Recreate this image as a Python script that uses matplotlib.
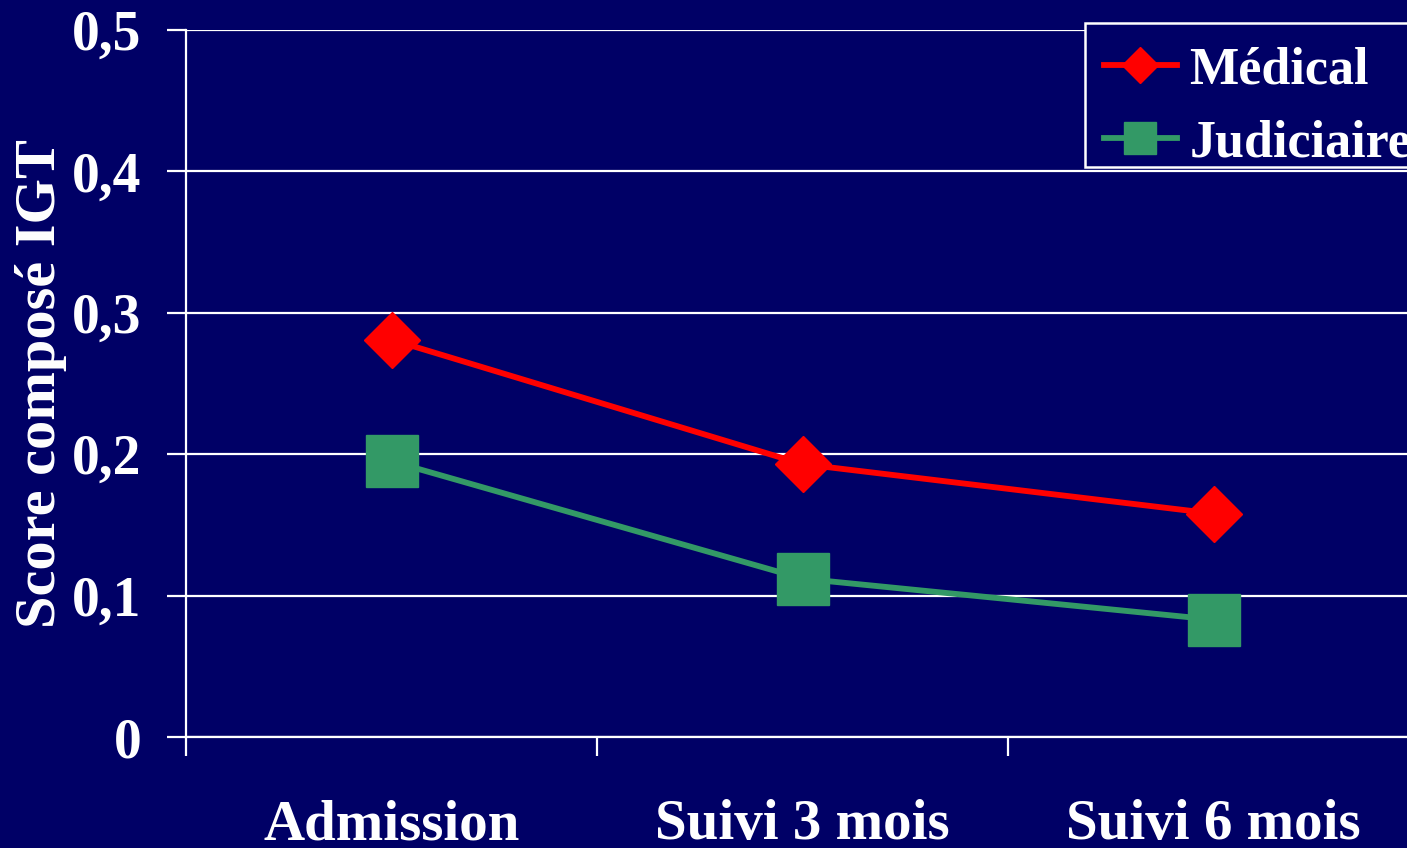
import matplotlib
matplotlib.use("Agg")
import matplotlib.pyplot as plt
from matplotlib.patches import Rectangle
import numpy as np

# IGT composite score per follow-up visit
visits = ["Admission", "Suivi 3 mois", "Suivi 6 mois"]
medical = [0.281, 0.193, 0.158]
judiciaire = [0.195, 0.112, 0.083]
yticks = [0, 0.1, 0.2, 0.3, 0.4, 0.5]
ytick_labels = ["0", "0,1", "0,2", "0,3", "0,4", "0,5"]

navy = "#000066"
red = "#ff0000"
green = "#339966"

plt.rcParams["font.family"] = ["Liberation Serif", "DejaVu Serif"]
plt.rcParams["font.weight"] = "bold"
plt.rcParams["axes.labelweight"] = "bold"

W, H = 1407, 848
fig = plt.figure(figsize=(W / 100, H / 100), dpi=100, facecolor=navy)
ax = fig.add_axes([186 / W, 111 / H, 1233 / W, 707 / H], facecolor=navy)

x = np.arange(len(visits))
ax.plot(x, medical, color=red, lw=4.2, marker="D", ms=29, mec=red,
        label="Médical", zorder=3, clip_on=False)
ax.plot(x, judiciaire, color=green, lw=4.2, marker="s", ms=37, mec=green,
        label="Judiciaire", zorder=3, clip_on=False)

ax.set_xlim(-0.5, 2.5)
ax.set_ylim(0, 0.5)

ax.set_yticks(yticks)
ax.set_yticklabels(ytick_labels)
ax.yaxis.grid(True, color="white", lw=1.6)
ax.set_axisbelow(True)

# category boundaries carry the tick marks, labels sit between them
ax.set_xticks([-0.5, 0.5, 1.5, 2.5])
ax.set_xticklabels([])
ax.set_xticks(x, minor=True)
ax.set_xticklabels(visits, minor=True)
ax.tick_params(axis="x", which="minor", length=0, pad=45, labelsize=41, colors="white")
ax.tick_params(axis="x", which="major", length=14, width=1.6, color="white")
ax.tick_params(axis="y", length=14, width=1.6, color="white", labelcolor="white",
               labelsize=40, pad=18)

for side in ("top", "right"):
    ax.spines[side].set_visible(False)
for side in ("left", "bottom"):
    ax.spines[side].set_color("white")
    ax.spines[side].set_linewidth(1.6)

ax.set_ylabel("Score composé IGT", color="white", fontsize=42, labelpad=4)

# legend box drawn separately so its height is fixed
box = Rectangle((1085 / W, 1 - 167 / H), 400 / W, 144 / H, transform=fig.transFigure,
                facecolor=navy, edgecolor="white", lw=1.8, zorder=4)
fig.patches.append(box)

leg = fig.legend(loc="upper left", bbox_to_anchor=(1089 / W, 1 - 32 / H),
                 borderaxespad=0, fontsize=37.5, frameon=False, markerscale=0.62,
                 handlelength=1.4, handletextpad=0.25, labelspacing=0.47,
                 borderpad=0.28)
leg.set_zorder(5)
for t in leg.get_texts():
    t.set_color("white")

fig.savefig("out.png", dpi=100, facecolor=navy)
